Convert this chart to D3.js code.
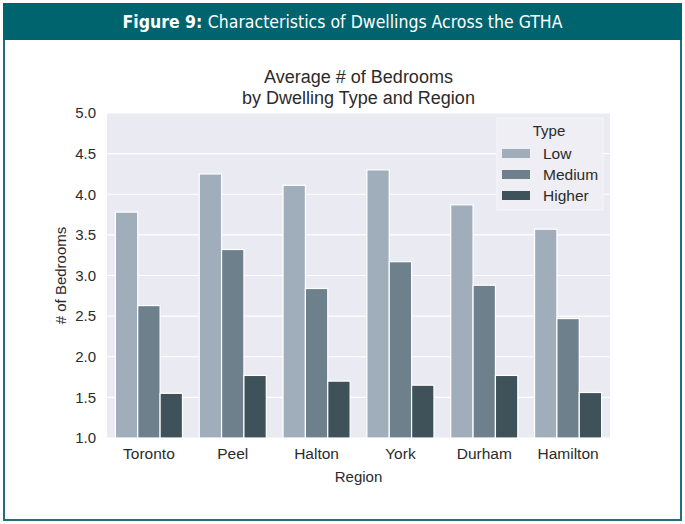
<!DOCTYPE html>
<html>
<head>
<meta charset="utf-8">
<script src="https://cdn.jsdelivr.net/npm/d3@7"></script>
<style>
  html, body { margin: 0; padding: 0; background: #fff; }
  svg { display: block; }
</style>
</head>
<body>
<svg id="chart" width="685" height="524"></svg>
<script>
const regions = ['Toronto', 'Peel', 'Halton', 'York', 'Durham', 'Hamilton'];
const types = ['Low', 'Medium', 'Higher'];
const lowValues = [3.78, 4.25, 4.11, 4.30, 3.87, 3.57];
const mediumValues = [2.63, 3.32, 2.84, 3.17, 2.88, 2.47];
const higherValues = [1.55, 1.77, 1.70, 1.65, 1.77, 1.56];
const yTicks = [1.0, 1.5, 2.0, 2.5, 3.0, 3.5, 4.0, 4.5, 5.0];
const colors = ['#a0aebb', '#6e808c', '#3f5159'];

const W = 685, H = 524;
const svg = d3.select('#chart');
const font = '"Liberation Sans", Arial, sans-serif';
const ink = '#2b2b2b';

// frame + header band
svg.append('rect')
  .attr('x', 4).attr('y', 4)
  .attr('width', W - 8).attr('height', H - 8)
  .attr('fill', '#fff')
  .attr('stroke', '#1f7079').attr('stroke-width', 2);
svg.append('rect')
  .attr('x', 3).attr('y', 3)
  .attr('width', W - 6).attr('height', 37)
  .attr('fill', '#00646e');

const header = svg.append('text')
  .attr('x', W / 2).attr('y', 28)
  .attr('text-anchor', 'middle')
  .attr('fill', '#fff')
  .attr('textLength', 440).attr('lengthAdjust', 'spacingAndGlyphs')
  .style('font-family', '"DejaVu Sans Condensed", "Liberation Sans Narrow", sans-serif')
  .style('font-size', '18px');
header.append('tspan').attr('font-weight', 'bold').text('Figure 9: ');
header.append('tspan').text('Characteristics of Dwellings Across the GTHA');

// plot area
const plot = { left: 107, right: 610, top: 113, bottom: 438 };

const x0 = d3.scaleBand()
  .domain(regions)
  .range([plot.left, plot.right])
  .paddingInner(0.2).paddingOuter(0.1);
const x1 = d3.scaleBand()
  .domain(types)
  .range([0, x0.bandwidth()]);
const y = d3.scaleLinear()
  .domain([1, 5])
  .range([plot.bottom, plot.top]);

svg.append('rect')
  .attr('x', plot.left).attr('y', plot.top)
  .attr('width', plot.right - plot.left).attr('height', plot.bottom - plot.top)
  .attr('fill', '#eaeaf2');

// horizontal grid
svg.append('g')
  .selectAll('line')
  .data(yTicks)
  .enter()
  .append('line')
  .attr('x1', plot.left).attr('x2', plot.right)
  .attr('y1', d => y(d)).attr('y2', d => y(d))
  .attr('stroke', '#fff').attr('stroke-width', 1.2);

const series = [lowValues, mediumValues, higherValues];
const rows = [];
regions.forEach((r, i) => {
  types.forEach((t, j) => {
    rows.push({ region: r, type: t, value: series[j][i], color: colors[j] });
  });
});

svg.append('g')
  .selectAll('rect')
  .data(rows)
  .enter()
  .append('rect')
  .attr('x', d => x0(d.region) + x1(d.type))
  .attr('y', d => y(d.value))
  .attr('width', x1.bandwidth())
  .attr('height', d => y(1) - y(d.value))
  .attr('fill', d => d.color)
  .attr('stroke', '#fff').attr('stroke-width', 1.2);

// axes
const yAxis = svg.append('g')
  .attr('transform', `translate(${plot.left},0)`)
  .call(d3.axisLeft(y).tickValues(yTicks).tickFormat(d3.format('.1f')).tickSize(0).tickPadding(11));
yAxis.select('.domain').remove();
yAxis.selectAll('text')
  .attr('fill', ink)
  .style('font-family', font)
  .style('font-size', '15px');

const xAxis = svg.append('g')
  .attr('transform', `translate(0,${plot.bottom})`)
  .call(d3.axisBottom(x0).tickSize(0).tickPadding(10));
xAxis.select('.domain').remove();
xAxis.selectAll('text')
  .attr('fill', ink)
  .style('font-family', font)
  .style('font-size', '15.5px');

svg.append('text')
  .attr('x', (plot.left + plot.right) / 2).attr('y', 482)
  .attr('text-anchor', 'middle')
  .attr('fill', ink)
  .style('font-family', font).style('font-size', '15px')
  .text('Region');

svg.append('text')
  .attr('transform', `translate(66,${(plot.top + plot.bottom) / 2}) rotate(-90)`)
  .attr('text-anchor', 'middle')
  .attr('fill', ink)
  .style('font-family', font).style('font-size', '15px')
  .text('# of Bedrooms');

// title
const titleLines = ['Average # of Bedrooms', 'by Dwelling Type and Region'];
svg.append('g')
  .selectAll('text')
  .data(titleLines)
  .enter()
  .append('text')
  .attr('x', (plot.left + plot.right) / 2)
  .attr('y', (d, i) => 83 + i * 21)
  .attr('text-anchor', 'middle')
  .attr('fill', ink)
  .style('font-family', font).style('font-size', '18px')
  .text(d => d);

// legend
const legend = svg.append('g').attr('transform', 'translate(497,118)');
legend.append('rect')
  .attr('width', 106).attr('height', 92)
  .attr('fill', '#eeeef4')
  .attr('stroke', '#f6f6f9').attr('stroke-width', 1);
legend.append('text')
  .attr('x', 52).attr('y', 18)
  .attr('text-anchor', 'middle')
  .attr('fill', ink)
  .style('font-family', font).style('font-size', '15px')
  .text('Type');
const items = legend.selectAll('g.item')
  .data(types)
  .enter()
  .append('g')
  .attr('class', 'item')
  .attr('transform', (d, i) => `translate(0,${35 + i * 21})`);
items.append('rect')
  .attr('x', 5).attr('y', -4)
  .attr('width', 28).attr('height', 9)
  .attr('fill', (d, i) => colors[i]);
items.append('text')
  .attr('x', 46).attr('y', 5.5)
  .attr('fill', ink)
  .style('font-family', font).style('font-size', '15.5px')
  .text(d => d);
</script>
</body>
</html>
